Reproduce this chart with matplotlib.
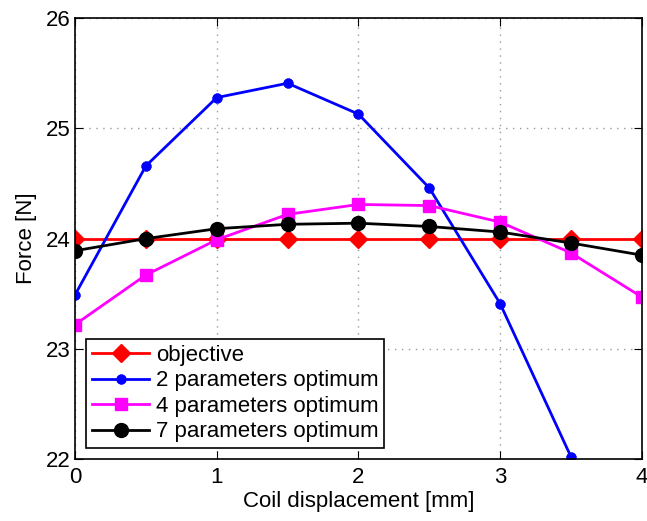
import numpy as np
import matplotlib.pyplot as plt

plt.rcParams['font.family'] = ['Liberation Sans', 'DejaVu Sans']

# coil displacement [mm]
x = [0, 0.5, 1, 1.5, 2, 2.5, 3, 3.5, 4]
x_two = [0, 0.5, 1, 1.5, 2, 2.5, 3, 3.5]

# force [N]
objective = [24, 24, 24, 24, 24, 24, 24, 24, 24]
opt2 = [23.49, 24.66, 25.28, 25.41, 25.13, 24.46, 23.41, 22.02]
opt4 = [23.22, 23.67, 23.99, 24.22, 24.31, 24.30, 24.15, 23.87, 23.47]
opt7 = [23.89, 24.00, 24.09, 24.13, 24.14, 24.11, 24.06, 23.96, 23.85]

fig = plt.figure(figsize=(6.47, 5.21), dpi=100)
ax = fig.add_axes([0.116, 0.119, 0.876, 0.846])

lw = 2
ax.plot(x, objective, color='red', lw=lw, marker='D', ms=9.5, label='objective')
ax.plot(x_two, opt2, color='blue', lw=lw, marker=(8, 2, 0), ms=7, mew=2.5,
        label='2 parameters optimum')
ax.plot(x, opt4, color='magenta', lw=lw, marker='s', ms=9, label='4 parameters optimum')
ax.plot(x, opt7, color='black', lw=lw, marker='o', ms=10, label='7 parameters optimum')

ax.set_xlim(0, 4)
ax.set_ylim(22, 26)
ax.set_xticks([0, 1, 2, 3, 4])
ax.set_yticks([22, 23, 24, 25, 26])
ax.grid(True, color='#999999', linestyle=(0, (1, 4)), linewidth=1)
ax.tick_params(direction='in', top=True, right=True, labelsize=16, length=6)
ax.tick_params(axis='x', pad=6)
ax.set_xlabel('Coil displacement [mm]', fontsize=16, labelpad=2)
ax.set_ylabel('Force [N]', fontsize=16, labelpad=6)
for s in ax.spines.values():
    s.set_linewidth(1.2)

leg = ax.legend(loc='lower left', fontsize=16, fancybox=False, framealpha=1,
                edgecolor='black', borderpad=0.25, labelspacing=0.2,
                handlelength=2.6, handletextpad=0.3, borderaxespad=0.5)
leg.get_frame().set_linewidth(1.2)

fig.savefig('out.png', dpi=100)
